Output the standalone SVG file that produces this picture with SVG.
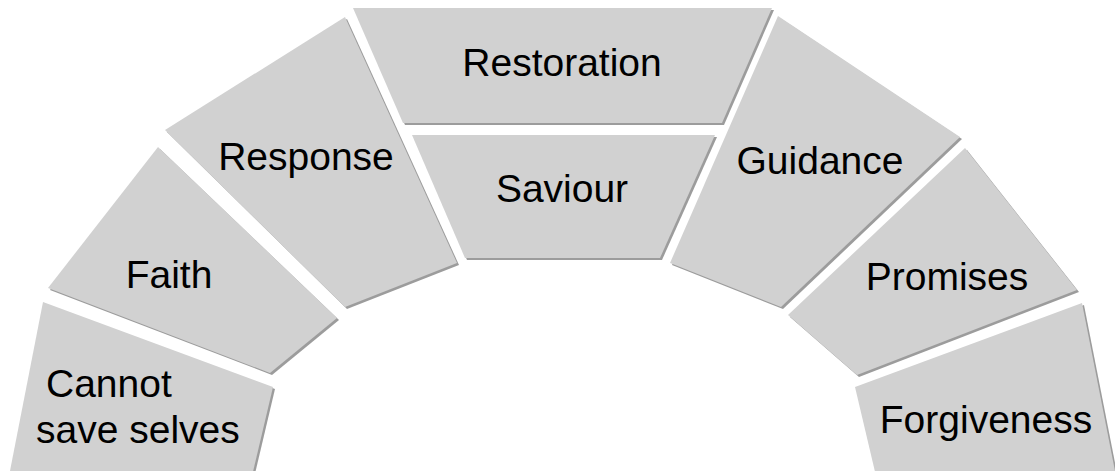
<svg xmlns="http://www.w3.org/2000/svg" width="1115" height="471" viewBox="0 0 1115 471">
<style>
.sh{fill:#9c9c9c}
.bx{fill:#d1d1d1}
.t{font-family:"Liberation Sans",Arial,sans-serif;font-size:39px;fill:#000;text-anchor:middle}
.ts{font-family:"Liberation Sans",Arial,sans-serif;font-size:39px;fill:#000}
</style>
<rect width="1115" height="471" fill="#ffffff"/>
<g id="cannot">
<polygon class="sh" transform="translate(2,2)" points="43,302 273,387 252,476 9,476"/>
<polygon class="bx" points="43,302 273,387 252,476 9,476"/>
<text class="ts" x="46" y="397">Cannot</text>
<text class="ts" x="36" y="443">save selves</text>
</g>
<g id="faith">
<polygon class="sh" transform="translate(2,2)" points="158,147 337,318 270,373 48,288"/>
<polygon class="bx" points="158,147 337,318 270,373 48,288"/>
<text class="t" x="169" y="288">Faith</text>
</g>
<g id="response">
<polygon class="sh" transform="translate(2,2)" points="345,17 457,263 345,307 165,130"/>
<polygon class="bx" points="345,17 457,263 345,307 165,130"/>
<text class="t" x="306" y="170">Response</text>
</g>
<g id="restoration">
<polygon class="sh" transform="translate(2,2)" points="353,8 772,8 722,123 403,123"/>
<polygon class="bx" points="353,8 772,8 722,123 403,123"/>
<text class="t" x="562" y="76">Restoration</text>
</g>
<g id="saviour">
<polygon class="sh" transform="translate(2,2)" points="412,135 715,135 660,258 465,258"/>
<polygon class="bx" points="412,135 715,135 660,258 465,258"/>
<text class="t" x="562" y="202">Saviour</text>
</g>
<g id="guidance">
<polygon class="sh" transform="translate(2,2)" points="778,16 960,137 781,307 670,263"/>
<polygon class="bx" points="778,16 960,137 781,307 670,263"/>
<text class="t" x="820" y="174">Guidance</text>
</g>
<g id="promises">
<polygon class="sh" transform="translate(2,2)" points="965,148 1077,290 857,375 788,315"/>
<polygon class="bx" points="965,148 1077,290 857,375 788,315"/>
<text class="t" x="947" y="290">Promises</text>
</g>
<g id="forgiveness">
<polygon class="sh" transform="translate(2,2)" points="855,387 1082,303 1116,476 876,476"/>
<polygon class="bx" points="855,387 1082,303 1116,476 876,476"/>
<text class="t" x="986" y="433">Forgiveness</text>
</g>
<g id="connectors"/>
</svg>
